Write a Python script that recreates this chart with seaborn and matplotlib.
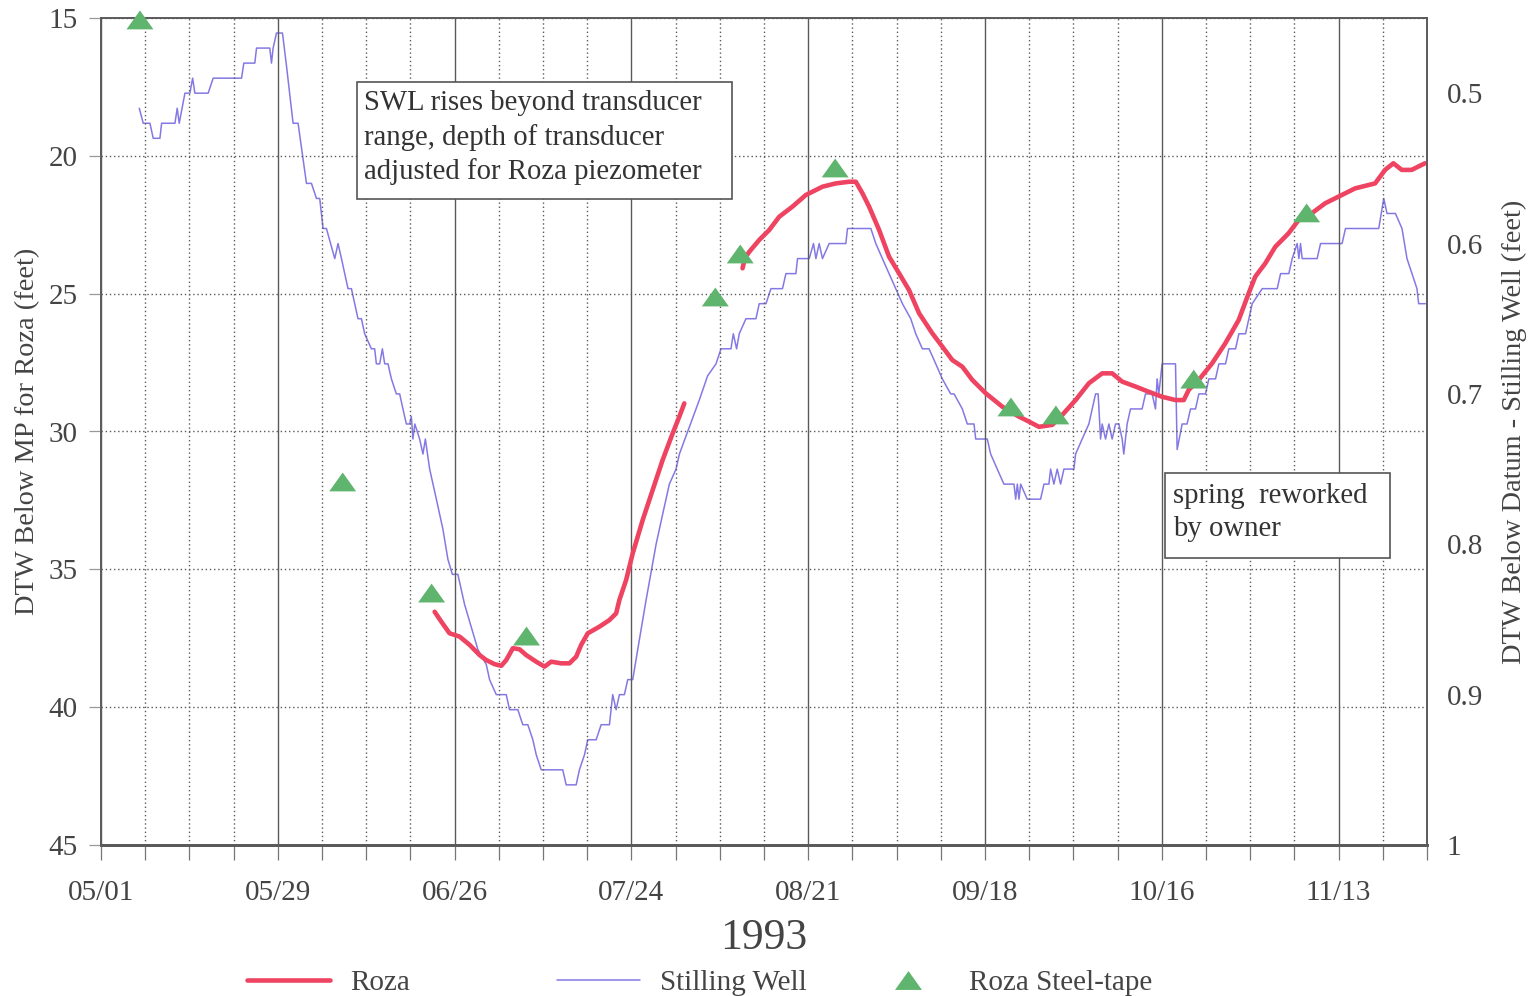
import numpy as np
import pandas as pd
import matplotlib
matplotlib.use('Agg')
import matplotlib.pyplot as plt
import matplotlib.dates as mdates
from matplotlib.ticker import FixedLocator, FuncFormatter
from matplotlib.lines import Line2D
from matplotlib.patches import Rectangle
import seaborn as sns

START = pd.Timestamp('1993-05-01')
END_DAY = 210

# Stilling Well (right axis, feet) -- days after 05/01/1993
sw_days = [6.06, 6.69, 7.75, 8.27, 9.33, 9.60, 11.71, 12.07, 12.39, 13.29, 14.08, 14.51, 14.87, 16.97,
           17.77, 22.26, 22.62, 24.36, 24.63, 26.73, 27.0, 27.26, 27.79, 28.74, 29.38, 30.42, 31.21,
           32.54, 33.33, 34.12, 34.64, 35.17, 35.70, 37.02, 37.54, 38.08, 38.6, 39.12, 39.66, 40.18,
           40.7, 41.24, 41.76, 42.82, 43.34, 43.61, 44.14, 44.56, 44.93, 45.45, 45.99, 46.78, 47.3,
           47.82, 48.36, 48.88, 49.15, 49.4, 49.7, 50.46, 50.99, 51.37, 52.05, 53.11, 54.15, 54.94,
           55.64, 56.52, 57.58, 58.64, 59.69, 61.02, 61.54, 62.60, 64.18, 64.70, 66.01, 66.80, 67.60,
           68.39, 68.93, 69.72, 73.13, 73.67, 75.25, 75.77, 76.57, 77.09, 78.42, 79.21, 80.52, 81.04,
           81.58, 82.10, 82.89, 83.42, 84.21, 85.0, 86.33, 87.91, 88.95, 90.01, 91.07, 91.60, 93.18,
           94.76, 96.07, 97.40, 98.19, 99.77, 100.14, 100.66, 101.08, 102.14, 103.72, 104.25, 105.31,
           106.10, 107.93, 108.47, 110.05, 110.31, 112.16, 112.84, 113.22, 113.74, 114.26, 115.32,
           117.96, 118.22, 121.92, 122.71, 123.75, 124.81, 125.87, 126.92, 128.24, 129.03, 130.08,
           131.14, 132.20, 133.24, 134.57, 135.1, 136.41, 137.20, 138.26, 138.53, 140.36, 140.90,
           141.94, 143.0, 144.59, 144.86, 145.12, 145.38, 145.65, 146.69, 148.8, 149.34, 150.12,
           150.39, 150.91, 151.44, 151.97, 152.50, 154.08, 154.35, 155.39, 156.45, 157.51, 157.92,
           158.30, 158.56, 159.09, 159.62, 160.14, 160.67, 161.20, 161.72, 161.98, 162.51, 163.04,
           164.88, 165.42, 166.47, 167.0, 167.26, 167.53, 168.05, 170.17, 170.43, 171.22, 172.0,
           172.55, 173.34, 173.87, 174.92, 175.45, 176.51, 177.04, 178.09, 178.62, 179.68, 180.21,
           181.26, 181.79, 182.32, 183.90, 186.28, 186.81, 188.12, 188.65, 189.44, 189.71, 189.97,
           190.23, 192.60, 193.14, 196.55, 197.09, 202.36, 203.15, 203.67, 205.0, 206.04, 206.83,
           207.62, 208.41, 208.68, 209.73]
sw_vals = [0.51, 0.52, 0.52, 0.53, 0.53, 0.52, 0.52, 0.51, 0.52, 0.50, 0.50, 0.49, 0.50, 0.50,
           0.49, 0.49, 0.48, 0.48, 0.47, 0.47, 0.48, 0.47, 0.46, 0.46, 0.482, 0.52, 0.52,
           0.56, 0.56, 0.57, 0.57, 0.59, 0.59, 0.61, 0.60, 0.61, 0.62, 0.63, 0.63, 0.64,
           0.65, 0.65, 0.66, 0.67, 0.67, 0.68, 0.68, 0.67, 0.68, 0.68, 0.69, 0.70, 0.70,
           0.71, 0.72, 0.72, 0.715, 0.73, 0.72, 0.73, 0.74, 0.73, 0.75, 0.77, 0.79, 0.81,
           0.82, 0.82, 0.84, 0.855, 0.87, 0.88, 0.89, 0.90, 0.90, 0.91, 0.91, 0.92, 0.92,
           0.93, 0.94, 0.95, 0.95, 0.96, 0.96, 0.95, 0.94, 0.93, 0.93, 0.92, 0.92, 0.90,
           0.91, 0.90, 0.90, 0.89, 0.89, 0.87, 0.837, 0.80, 0.78, 0.76, 0.75, 0.74, 0.722,
           0.704, 0.688, 0.68, 0.67, 0.67, 0.66, 0.67, 0.66, 0.65, 0.65, 0.64, 0.64,
           0.63, 0.63, 0.62, 0.62, 0.61, 0.61, 0.60, 0.61, 0.60, 0.61, 0.60,
           0.60, 0.59, 0.59, 0.60, 0.61, 0.62, 0.63, 0.64, 0.65, 0.66, 0.67,
           0.67, 0.68, 0.69, 0.70, 0.70, 0.71, 0.72, 0.72, 0.73, 0.73, 0.74,
           0.75, 0.76, 0.76, 0.77, 0.76, 0.77, 0.76, 0.77, 0.77, 0.76, 0.76,
           0.75, 0.76, 0.75, 0.76, 0.75, 0.75, 0.74, 0.73, 0.72, 0.70, 0.70,
           0.73, 0.72, 0.73, 0.72, 0.73, 0.72, 0.72, 0.73, 0.74, 0.72, 0.71,
           0.71, 0.70, 0.70, 0.71, 0.69, 0.70, 0.68, 0.68, 0.737, 0.72, 0.72,
           0.71, 0.71, 0.70, 0.70, 0.69, 0.69, 0.68, 0.68, 0.67, 0.67, 0.66,
           0.66, 0.65, 0.64, 0.63, 0.63, 0.62, 0.62, 0.61, 0.60, 0.61, 0.60,
           0.61, 0.61, 0.60, 0.60, 0.59, 0.59, 0.57, 0.58, 0.58, 0.59, 0.61,
           0.62, 0.63, 0.64, 0.64]

# Roza transducer (left axis, feet), two segments
roza1_days = [52.84, 53.9, 55.2, 56.79, 58.37, 59.96, 61.0, 62.33, 63.39, 64.18, 65.23, 66.28, 67.34,
              68.92, 70.24, 71.3, 72.88, 74.19, 75.25, 76.05, 77.09, 78.94, 80.52, 81.58, 82.1, 83.16,
              84.21, 85.79, 87.37, 88.95, 90.53, 91.59, 92.38]
roza1_vals = [36.54, 36.9, 37.32, 37.44, 37.74, 38.11, 38.29, 38.44, 38.5, 38.29, 37.86, 37.9, 38.11,
              38.35, 38.53, 38.35, 38.41, 38.41, 38.17, 37.74, 37.32, 37.08, 36.84, 36.6, 36.11, 35.39,
              34.42, 33.21, 32.12, 31.03, 30.07, 29.46, 28.98]
roza2_days = [101.6, 102.0, 102.67, 104.25, 105.83, 107.41, 109.52, 111.63, 114.26, 116.38, 118.49, 119.54,
              120.59, 121.64, 123.23, 124.81, 126.39, 127.97, 129.56, 131.66, 133.24, 134.83, 136.41,
              137.99, 140.1, 142.74, 145.37, 146.96, 148.54, 150.65, 152.23, 154.35, 156.45, 158.56,
              160.14, 161.72, 163.84, 165.94, 168.05, 170.17, 171.48, 172.27, 173.85, 175.96, 178.06,
              180.17, 181.75, 182.81, 184.39, 185.97, 188.08, 189.66, 191.77, 193.88, 195.99, 198.62,
              201.78, 203.36, 204.68, 206.0, 207.57, 209.68]
roza2_vals = [24.08, 23.7, 23.48, 23.05, 22.69, 22.21, 21.84, 21.42, 21.12, 21.0, 20.94, 20.94,
              21.36, 21.84, 22.69, 23.66, 24.26, 24.87, 25.71, 26.44, 26.92, 27.41, 27.65,
              28.13, 28.61, 29.1, 29.46, 29.64, 29.83, 29.76, 29.4, 28.86, 28.25, 27.89,
              27.89, 28.19, 28.37, 28.56, 28.74, 28.86, 28.86, 28.49, 28.13, 27.53, 26.8,
              25.96, 24.99, 24.38, 23.9, 23.3, 22.81, 22.33, 22.08, 21.72, 21.48, 21.18,
              21.0, 20.51, 20.27, 20.51, 20.51, 20.27]

# Roza steel-tape measurements (left axis, feet)
tape_days = [6.17, 38.28, 52.36, 67.39, 97.29, 101.24, 116.27, 144.11, 151.23, 173.06, 190.94]
tape_vals = [15.07, 31.83, 35.86, 37.42, 25.12, 23.56, 20.44, 29.11, 29.4, 28.1, 22.07]

left_ticks = [15, 20, 25, 30, 35, 40, 45]
right_ticks = [0.5, 0.6, 0.7, 0.8, 0.9, 1.0]
series_labels = ['Roza', 'Stilling Well', 'Roza Steel-tape']
note1 = 'SWL rises beyond transducer\nrange, depth of transducer\nadjusted for Roza piezometer'
note2 = 'spring  reworked\nby owner'


def to_df(days, vals):
    return pd.DataFrame({'date': START + pd.to_timedelta(days, unit='D'), 'val': vals})


sw_df = to_df(sw_days, sw_vals)
r1_df = to_df(roza1_days, roza1_vals)
r2_df = to_df(roza2_days, roza2_vals)
tape_df = to_df(tape_days, tape_vals)

RED = '#EE4461'
BLUE = '#8479E4'
GREEN = '#5FB46E'
TXT = '#444444'
GRID = '#5a5a5a'
TRI = [(-1, -0.7), (1, -0.7), (0, 0.7), (-1, -0.7)]
FS = 21

sns.set_theme(style='white')
plt.rcParams['font.family'] = ['Liberation Serif', 'DejaVu Serif']

fig = plt.figure(figsize=(15.36, 9.96), dpi=100)
fig.patch.set_facecolor('white')
ax = fig.add_axes([101 / 1536, 1 - 845 / 996, 1326 / 1536, 827 / 996])
ax2 = ax.twinx()

sns.lineplot(data=sw_df, x='date', y='val', ax=ax2, color=BLUE, lw=1.1,
             estimator=None, sort=False, legend=False)
sns.lineplot(data=r1_df, x='date', y='val', ax=ax, color=RED, lw=3.3,
             estimator=None, sort=False, legend=False)
sns.lineplot(data=r2_df, x='date', y='val', ax=ax, color=RED, lw=3.3,
             estimator=None, sort=False, legend=False)
sns.scatterplot(data=tape_df, x='date', y='val', ax=ax, marker=TRI, s=19.4 ** 2,
                color=GREEN, edgecolor='none', linewidth=0, zorder=6, clip_on=False, legend=False)

ax.set_zorder(2)
ax2.set_zorder(1)
ax.patch.set_visible(False)

x0 = START
x1 = START + pd.Timedelta(days=END_DAY)
ax.set_xlim(x0, x1)
ax.set_ylim(45, 15)
ax2.set_ylim(1.0, 0.45)

major = pd.date_range(START, periods=8, freq='28D')
allweeks = pd.date_range(START, x1, freq='7D')
minor = [d for d in allweeks if d not in set(major)]
ax.xaxis.set_major_locator(FixedLocator(mdates.date2num(major)))
ax.xaxis.set_minor_locator(FixedLocator(mdates.date2num(minor)))
ax.xaxis.set_major_formatter(mdates.DateFormatter('%m/%d'))

ax.set_yticks(left_ticks)
ax2.set_yticks(right_ticks)
ax2.yaxis.set_major_formatter(FuncFormatter(lambda v, p: f'{v:g}'))

ax.grid(False)
ax2.grid(False)
ax.xaxis.grid(True, which='major', ls='-', color=GRID, lw=1.0)
ax.xaxis.grid(True, which='minor', ls=(0, (1, 2)), color=GRID, lw=1.0)
ax.yaxis.grid(True, which='major', ls=(0, (1, 2)), color=GRID, lw=1.0)

ax.tick_params(axis='x', which='both', direction='out', length=11, width=0.9, color='#777',
               pad=14, labelsize=FS, labelcolor=TXT, bottom=True)
ax.tick_params(axis='y', which='major', direction='out', length=9, width=0.9, color='#999',
               pad=8, labelsize=FS, labelcolor=TXT, left=True)
ax2.tick_params(axis='y', which='major', length=0, pad=14, labelsize=FS, labelcolor=TXT)

for a in (ax, ax2):
    for s in a.spines.values():
        s.set_color(GRID)
        s.set_linewidth(1.2)
ax.spines['bottom'].set_linewidth(2.0)
ax2.spines['bottom'].set_linewidth(2.0)

ax.set_xlabel('1993', fontsize=31.5, color=TXT, labelpad=9)
ax.set_ylabel('DTW Below MP for Roza (feet)', fontsize=20.4, color=TXT)
ax.yaxis.set_label_coords(-0.046, 0.5)
ax2.set_ylabel('DTW Below Datum - Stilling Well (feet)', fontsize=20.4, color=TXT)
ax2.yaxis.set_label_coords(1.0565, 0.5)

# annotation boxes
for (bx0, by0, bx1, by1) in [(357, 82, 732, 199), (1165, 473, 1390, 558)]:
    ax.add_patch(Rectangle(((bx0 - 101) / 1326, 1 - (by1 - 18) / 827),
                           (bx1 - bx0) / 1326, (by1 - by0) / 827,
                           transform=ax.transAxes, facecolor='white', edgecolor='#555',
                           lw=1.2, zorder=4))
ax.text((364 - 101) / 1326, 1 - (90.5 - 18) / 827, note1, transform=ax.transAxes,
        ha='left', va='top', fontsize=20.7, color='#333', linespacing=1.34, zorder=5)
ax.text((1173 - 101) / 1326, 1 - (483 - 18) / 827, note2, transform=ax.transAxes,
        ha='left', va='top', fontsize=20.7, color='#333', linespacing=1.34, zorder=5)

# legend
handles = [Line2D([], [], color=RED, lw=3.3),
           Line2D([], [], color=BLUE, lw=1.1),
           Line2D([], [], ls='none', marker=TRI, markersize=19.4, color=GREEN, markeredgecolor='none')]
for h, lab, xp in zip(handles, series_labels, [247, 557, 866]):
    fig.legend(handles=[h], labels=[lab], loc='center left',
               bbox_to_anchor=(xp / 1536, 1 - 983 / 996), frameon=False, borderpad=0,
               borderaxespad=0, handlelength=2.85, handletextpad=0.68, fontsize=FS,
               labelcolor=TXT)

fig.savefig('out.png', dpi=100, facecolor='white')
